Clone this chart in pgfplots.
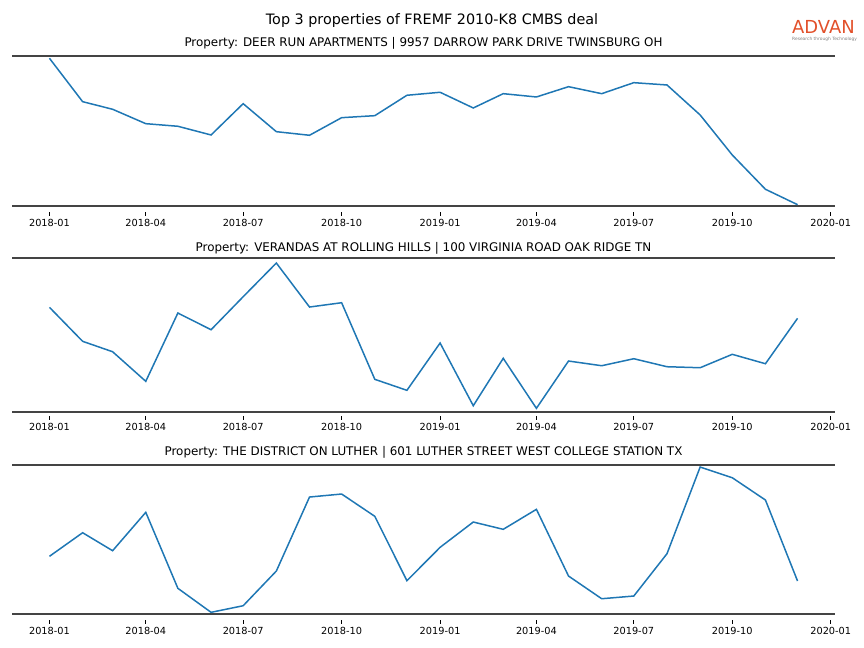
\documentclass[border=0pt]{standalone}
\usepackage{fontspec}
\setmainfont{DejaVu Sans}
\usepackage{pgfplots}
\pgfplotsset{compat=1.18}

\definecolor{mplblue}{HTML}{1F77B4}
\definecolor{spine}{HTML}{444444}
\definecolor{advan}{HTML}{E2502A}

% one panel: days since 2018-01-01 on x, thick rules drawn at 0 and at the top value
\pgfplotsset{
  panel/.style={
    scale only axis,
    width=823bp,
    xmin=-35, xmax=734,
    axis x line=bottom,
    axis y line=none,
    x axis line style={draw=none},
    xtick={0,90,181,273,365,455,546,638,730},
    xticklabels={2018-01,2018-04,2018-07,2018-10,2019-01,2019-04,2019-07,2019-10,2020-01},
    xtick pos=bottom,
    tick align=outside,
    major tick length=4bp,
    tick style={black, line width=0.8bp},
    xticklabel style={font=\fontsize{9.8}{11}\selectfont},
    ytick=\empty,
    clip=false,
    title style={at={(0.5,1)}, anchor=base, yshift=-2bp, font=\fontsize{11.95}{14}\selectfont},
  },
  series/.style={mplblue, line width=1.5bp, mark=none},
  rule/.style={spine, line width=2bp, forget plot},
}

\begin{document}
\begin{tikzpicture}
\path[use as bounding box] (0,0) rectangle (864bp,648bp);

\node[anchor=base, font=\fontsize{14.4}{16}\selectfont] at (432bp,623.9bp)
  {Top 3 properties of FREMF 2010-K8 CMBS deal};
\node[anchor=base west, inner sep=0pt, text=advan, font=\fontsize{18}{18}\selectfont] at (792bp,614bp) {ADVAN};
\node[anchor=base west, inner sep=0pt, text=gray, font=\fontsize{4.4}{5}\selectfont] at (792bp,607.5bp) {Research through Technology};

% panel 1
\begin{axis}[panel, at={(12bp,436bp)}, anchor=south west, height=161.04bp,
  ymin=-6.32, ymax=154.72,
  title={Property: DEER RUN APARTMENTS | 9957 DARROW PARK DRIVE TWINSBURG OH}]
\addplot[rule] coordinates {(-35,0) (734,0)};
\addplot[rule] coordinates {(-35,150) (734,150)};
\addplot[series] coordinates {
(0,147.4) (31,104.0) (59,96.4) (90,82.0) (120,79.4) (151,70.7)
(181,102.0) (212,74.0) (243,70.4) (273,88.0) (304,90.0) (334,110.4)
(365,113.4) (396,97.7) (424,112.0) (455,108.7) (485,119.0) (516,112.0)
(546,123.0) (577,120.7) (608,90.7) (638,50.7) (669,16.4) (699,1.0)};
\end{axis}

% panel 2
\begin{axis}[panel, at={(12bp,232.4bp)}, anchor=south west, height=159.84bp,
  ymin=-3.57, ymax=156.27,
  title={Property: VERANDAS AT ROLLING HILLS | 100 VIRGINIA ROAD OAK RIDGE TN}]
\addplot[rule] coordinates {(-35,0) (734,0)};
\addplot[rule] coordinates {(-35,154.3) (734,154.3)};
\addplot[series] coordinates {
(0,104.7) (31,70.7) (59,60.3) (90,30.7) (120,99.0) (151,82.3)
(181,115.3) (212,149.0) (243,105.0) (273,109.3) (304,32.7) (334,21.7)
(365,69.0) (396,6.3) (424,53.7) (455,3.7) (485,51.0) (516,46.3)
(546,53.3) (577,45.3) (608,44.3) (638,57.7) (669,48.3) (699,93.7)};
\end{axis}

% panel 3
\begin{axis}[panel, at={(12bp,28.4bp)}, anchor=south west, height=159.84bp,
  ymin=-5.57, ymax=154.27,
  title={Property: THE DISTRICT ON LUTHER | 601 LUTHER STREET WEST COLLEGE STATION TX}]
\addplot[rule] coordinates {(-35,0) (734,0)};
\addplot[rule] coordinates {(-35,149) (734,149)};
\addplot[series] coordinates {
(0,57.7) (31,81.3) (59,63.3) (90,101.7) (120,25.7) (151,1.7)
(181,8.3) (212,43.0) (243,117.0) (273,120.0) (304,97.7) (334,33.3)
(365,66.7) (396,92.0) (424,84.7) (455,104.7) (485,38.0) (516,15.3)
(546,18.0) (577,60.3) (608,147.0) (638,136.3) (669,114.0) (699,33.0)};
\end{axis}
\end{tikzpicture}
\end{document}
